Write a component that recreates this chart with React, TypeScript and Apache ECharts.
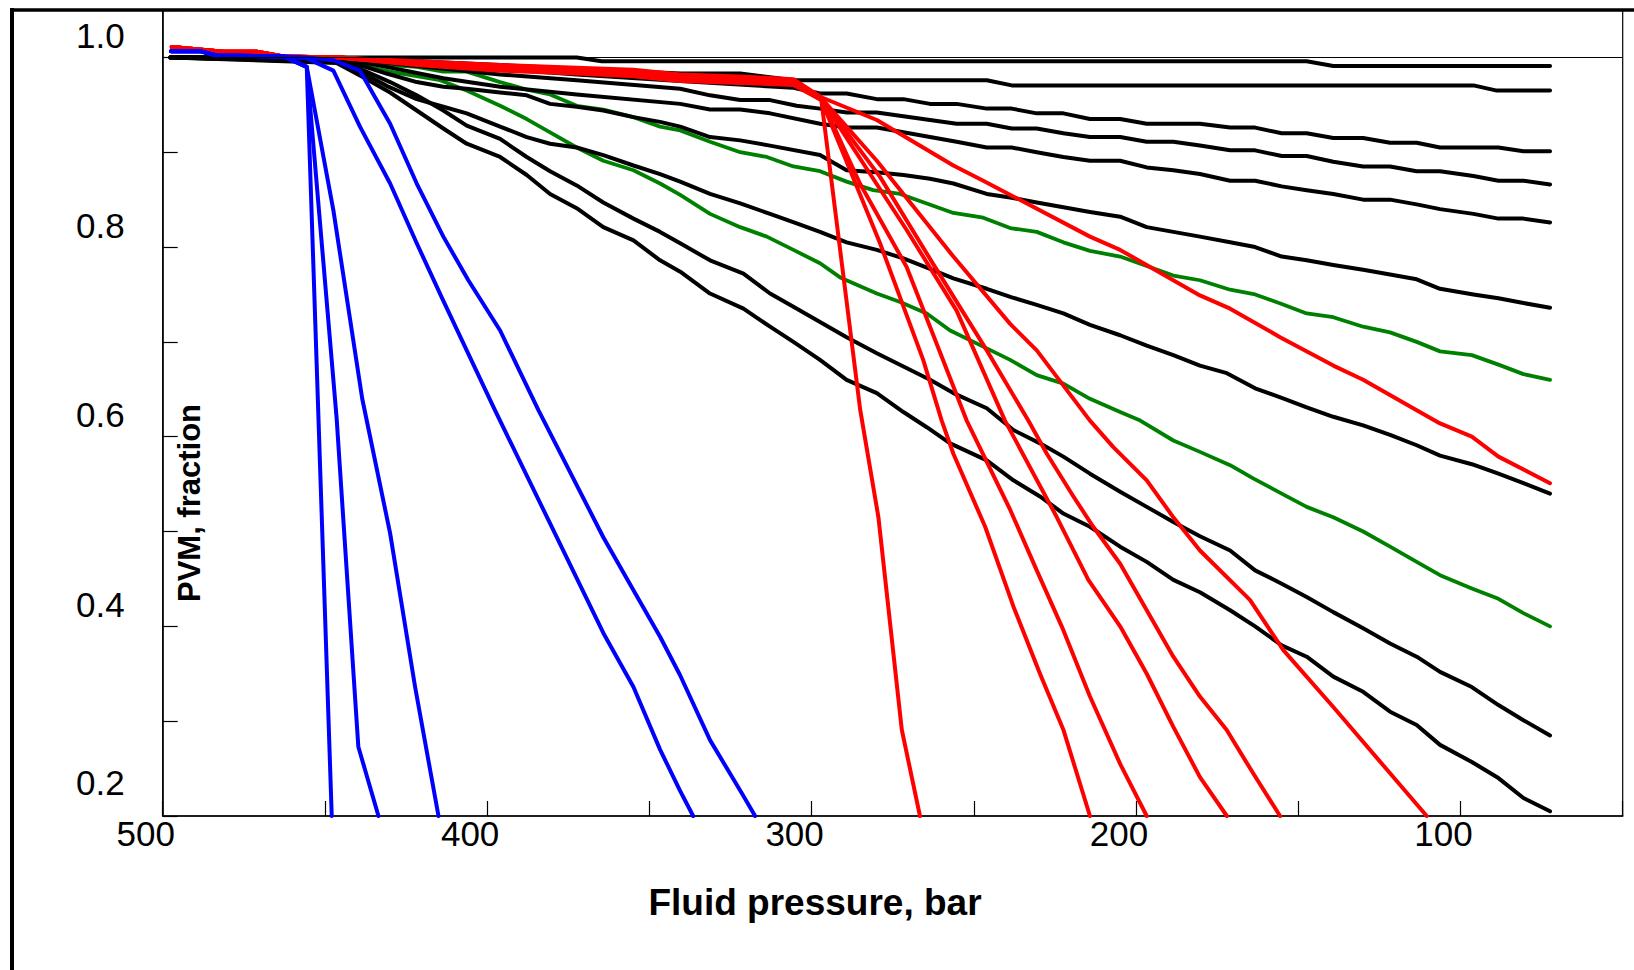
import React, { useEffect, useRef } from "react";
import * as echarts from "echarts";

type Pt = [number, number];

// ---- axis ticks / labels ----
const xTickLabels = [500, 400, 300, 200, 100];
const yTickLabels = [0.2, 0.4, 0.6, 0.8, 1.0];

// ---- black curves (pressure bar, PVM fraction) ----
const black1: Pt[] = [[497.6, 1.0], [372.4, 1.0], [364.7, 0.996], [147.4, 0.996], [139.2, 0.991], [72.4, 0.991]];
const black2: Pt[] = [[497.6, 1.0], [446.4, 1.0], [421.7, 0.996], [396.0, 0.992], [372.4, 0.988], [340.5, 0.983], [322.0, 0.983], [312.8, 0.979], [305.6, 0.976], [246.0, 0.976], [238.3, 0.9705], [96.0, 0.9705], [88.8, 0.965], [72.4, 0.965]];
const black3: Pt[] = [[497.6, 1.0], [446.4, 1.0], [421.7, 0.994], [396.0, 0.988], [372.4, 0.982], [340.5, 0.975], [305.6, 0.968], [297.4, 0.962], [289.2, 0.962], [279.9, 0.956], [271.7, 0.956], [263.5, 0.951], [255.3, 0.951], [246.0, 0.946], [238.3, 0.946], [230.6, 0.941], [222.4, 0.941], [214.2, 0.935], [204.9, 0.935], [196.7, 0.93], [180.3, 0.93], [171.0, 0.926], [163.3, 0.926], [155.1, 0.92], [147.4, 0.92], [139.2, 0.915], [130.0, 0.915], [121.7, 0.91], [113.5, 0.91], [106.3, 0.905], [88.3, 0.905], [80.6, 0.901], [72.4, 0.901]];
const black4: Pt[] = [[497.6, 1.0], [446.4, 1.0], [421.7, 0.991], [396.0, 0.982], [372.4, 0.976], [340.5, 0.967], [331.3, 0.96], [322.0, 0.955], [312.8, 0.955], [304.6, 0.949], [297.4, 0.946], [289.2, 0.942], [279.9, 0.942], [271.7, 0.938], [263.5, 0.934], [255.3, 0.93], [246.0, 0.93], [238.3, 0.925], [230.6, 0.925], [222.4, 0.92], [214.2, 0.916], [204.9, 0.916], [196.7, 0.911], [188.5, 0.911], [180.3, 0.907], [171.0, 0.902], [163.3, 0.902], [155.1, 0.896], [147.4, 0.896], [139.2, 0.89], [130.0, 0.885], [121.7, 0.885], [113.5, 0.88], [106.3, 0.88], [96.0, 0.875], [88.3, 0.87], [80.6, 0.87], [72.4, 0.866]];
const black5: Pt[] = [[497.6, 1.0], [446.4, 1.0], [431.0, 0.99], [413.5, 0.978], [396.0, 0.969], [372.4, 0.961], [340.5, 0.951], [331.3, 0.945], [322.0, 0.945], [312.8, 0.941], [297.4, 0.93], [289.2, 0.926], [279.9, 0.926], [271.7, 0.921], [263.5, 0.916], [255.3, 0.911], [246.0, 0.905], [238.3, 0.905], [230.6, 0.9], [222.4, 0.895], [214.2, 0.891], [204.9, 0.891], [196.7, 0.884], [188.5, 0.881], [180.3, 0.877], [171.0, 0.87], [163.3, 0.87], [155.1, 0.864], [147.4, 0.86], [139.2, 0.856], [130.0, 0.85], [121.7, 0.85], [113.5, 0.845], [106.3, 0.84], [96.0, 0.835], [88.3, 0.83], [80.6, 0.83], [72.4, 0.826]];
const black6: Pt[] = [[497.6, 1.0], [446.4, 0.997], [439.2, 0.992], [431.0, 0.983], [421.7, 0.974], [413.5, 0.969], [406.3, 0.967], [396.0, 0.963], [387.8, 0.96], [380.6, 0.951], [372.4, 0.948], [364.2, 0.944], [354.9, 0.937], [346.7, 0.932], [340.5, 0.927], [331.3, 0.916], [322.0, 0.9125], [312.8, 0.907], [297.4, 0.897], [289.2, 0.881], [279.9, 0.879], [271.7, 0.876], [263.5, 0.872], [256.3, 0.867], [246.0, 0.856], [238.3, 0.852], [230.6, 0.847], [222.4, 0.842], [214.2, 0.837], [204.9, 0.832], [196.7, 0.821], [188.5, 0.816], [180.3, 0.811], [171.0, 0.805], [163.3, 0.8], [155.1, 0.79], [147.4, 0.786], [139.2, 0.781], [130.0, 0.776], [121.7, 0.771], [113.5, 0.766], [106.3, 0.756], [96.0, 0.75], [88.3, 0.746], [80.6, 0.741], [72.4, 0.736]];
const black7: Pt[] = [[497.6, 1.0], [446.4, 0.996], [439.2, 0.985], [431.0, 0.97], [421.7, 0.956], [413.5, 0.948], [406.3, 0.941], [396.0, 0.927], [387.8, 0.916], [380.6, 0.909], [372.4, 0.905], [364.2, 0.897], [354.9, 0.886], [346.7, 0.877], [340.5, 0.869], [331.3, 0.856], [322.0, 0.846], [312.8, 0.835], [304.6, 0.825], [297.4, 0.816], [289.2, 0.805], [279.9, 0.797], [271.7, 0.788], [263.5, 0.777], [256.3, 0.767], [246.0, 0.756], [238.3, 0.747], [230.6, 0.739], [222.4, 0.73], [214.2, 0.718], [204.9, 0.707], [196.7, 0.696], [188.5, 0.686], [180.3, 0.675], [172.0, 0.667], [163.3, 0.651], [155.1, 0.641], [147.4, 0.631], [139.2, 0.621], [130.0, 0.612], [121.7, 0.602], [113.5, 0.591], [106.3, 0.58], [96.5, 0.571], [88.3, 0.561], [80.6, 0.551], [72.4, 0.54]];
const black8: Pt[] = [[497.6, 1.0], [446.4, 0.995], [439.2, 0.988], [429.9, 0.974], [421.7, 0.96], [413.5, 0.944], [406.3, 0.928], [396.0, 0.914], [387.8, 0.895], [380.6, 0.88], [372.4, 0.865], [364.2, 0.847], [354.9, 0.83], [346.7, 0.816], [340.5, 0.804], [331.3, 0.786], [321.0, 0.772], [312.8, 0.751], [305.6, 0.737], [297.4, 0.721], [289.2, 0.705], [279.9, 0.688], [271.7, 0.674], [263.5, 0.66], [256.3, 0.646], [246.0, 0.63], [237.8, 0.607], [229.6, 0.593], [222.4, 0.579], [214.2, 0.561], [204.9, 0.542], [196.7, 0.526], [188.5, 0.51], [180.3, 0.495], [171.0, 0.48], [163.3, 0.459], [155.1, 0.445], [147.4, 0.431], [139.2, 0.415], [130.0, 0.398], [121.7, 0.382], [113.5, 0.368], [106.3, 0.352], [96.5, 0.336], [88.3, 0.317], [80.6, 0.301], [72.4, 0.285]];
const black9: Pt[] = [[497.6, 1.0], [446.4, 0.994], [438.2, 0.979], [429.9, 0.963], [421.7, 0.944], [413.5, 0.925], [406.3, 0.909], [396.0, 0.895], [387.8, 0.876], [380.6, 0.856], [372.4, 0.841], [364.2, 0.821], [354.9, 0.807], [346.7, 0.786], [340.5, 0.774], [331.3, 0.751], [321.0, 0.735], [312.8, 0.716], [305.6, 0.7], [297.4, 0.681], [289.2, 0.66], [279.9, 0.646], [271.7, 0.626], [264.5, 0.61], [257.3, 0.593], [246.0, 0.575], [237.8, 0.554], [229.6, 0.537], [222.4, 0.519], [214.2, 0.505], [204.9, 0.484], [196.7, 0.468], [188.5, 0.449], [180.3, 0.436], [171.0, 0.417], [163.3, 0.4], [155.1, 0.38], [147.4, 0.368], [139.2, 0.347], [130.0, 0.331], [121.7, 0.31], [113.5, 0.296], [106.3, 0.275], [96.5, 0.257], [88.3, 0.24], [80.6, 0.219], [72.4, 0.205]];

// ---- green curves ----
const green1: Pt[] = [[497.6, 1.0], [446.4, 0.998], [439.2, 0.994], [421.7, 0.99], [413.5, 0.985], [406.3, 0.985], [396.0, 0.974], [387.8, 0.966], [380.6, 0.961], [372.4, 0.949], [364.2, 0.945], [354.9, 0.937], [346.7, 0.927], [340.5, 0.923], [331.3, 0.911], [322.0, 0.9], [313.8, 0.895], [305.6, 0.885], [297.4, 0.88], [289.2, 0.869], [281.0, 0.86], [272.7, 0.856], [264.5, 0.846], [256.3, 0.836], [247.1, 0.831], [238.8, 0.82], [230.6, 0.816], [222.4, 0.805], [214.2, 0.796], [204.9, 0.79], [196.7, 0.78], [188.5, 0.77], [180.3, 0.765], [171.0, 0.755], [163.3, 0.75], [155.1, 0.74], [147.4, 0.73], [139.2, 0.726], [130.0, 0.716], [121.7, 0.71], [113.5, 0.7], [106.3, 0.69], [96.5, 0.686], [88.3, 0.676], [80.6, 0.666], [72.4, 0.66]];
const green2: Pt[] = [[497.6, 1.0], [446.4, 0.998], [439.2, 0.992], [429.9, 0.985], [414.5, 0.976], [406.3, 0.965], [396.0, 0.949], [387.8, 0.935], [380.6, 0.921], [372.4, 0.905], [364.2, 0.891], [354.9, 0.881], [346.7, 0.867], [340.5, 0.855], [331.3, 0.835], [322.0, 0.821], [313.8, 0.811], [305.6, 0.797], [297.4, 0.783], [291.2, 0.768], [279.9, 0.751], [272.7, 0.742], [264.5, 0.73], [257.3, 0.712], [247.1, 0.695], [238.8, 0.681], [230.6, 0.665], [222.4, 0.656], [214.2, 0.64], [204.9, 0.626], [198.7, 0.617], [188.5, 0.596], [180.3, 0.584], [171.0, 0.57], [163.9, 0.556], [155.1, 0.54], [147.4, 0.526], [139.2, 0.515], [130.0, 0.5], [121.7, 0.484], [113.5, 0.468], [106.3, 0.454], [96.5, 0.44], [88.3, 0.429], [80.6, 0.414], [72.4, 0.4]];

// ---- blue curves ----
const blue1: Pt[] = [[497.4, 1.0066], [488.5, 1.0066], [483.4, 1.002], [462.8, 1.001], [455.6, 0.99], [447.9, 0.2]];
const blue2: Pt[] = [[497.4, 1.0066], [488.5, 1.0066], [483.4, 1.002], [462.8, 1.001], [455.6, 0.99], [446.4, 0.62], [439.7, 0.273], [433.5, 0.2]];
const blue3: Pt[] = [[497.4, 1.0066], [488.5, 1.0066], [483.4, 1.002], [462.8, 1.001], [455.6, 0.99], [447.4, 0.839], [438.5, 0.64], [429.9, 0.498], [422.2, 0.336], [415.0, 0.2]];
const blue4: Pt[] = [[497.4, 1.0066], [488.5, 1.0066], [483.4, 1.002], [462.8, 1.001], [455.6, 0.999], [447.4, 0.986], [439.2, 0.927], [429.9, 0.867], [421.7, 0.804], [414.0, 0.747], [406.3, 0.691], [397.6, 0.628], [381.1, 0.512], [364.2, 0.393], [354.9, 0.336], [346.7, 0.27], [340.6, 0.227], [336.5, 0.2]];
const blue5: Pt[] = [[497.4, 1.0066], [488.5, 1.0066], [483.4, 1.002], [462.8, 1.001], [455.6, 1.0], [447.4, 0.997], [439.2, 0.986], [429.9, 0.93], [421.7, 0.867], [413.5, 0.811], [405.8, 0.765], [396.0, 0.712], [384.2, 0.628], [364.2, 0.494], [354.9, 0.438], [346.7, 0.389], [340.6, 0.349], [331.3, 0.28], [321.5, 0.224], [317.4, 0.2]];

// ---- red curves ----
const red1: Pt[] = [[497.2, 1.011], [481.3, 1.006], [471.0, 1.006], [462.8, 1.001], [446.0, 1.0], [421.7, 0.992], [396.0, 0.986], [372.4, 0.983], [354.9, 0.98], [340.5, 0.975], [322.0, 0.973], [305.6, 0.971], [297.0, 0.955], [285.0, 0.628], [279.4, 0.515], [272.2, 0.291], [266.6, 0.2]];
const red2: Pt[] = [[497.2, 1.011], [481.3, 1.006], [471.0, 1.006], [462.8, 1.001], [446.0, 1.0], [421.7, 0.993], [396.0, 0.987], [372.4, 0.984], [354.9, 0.981], [340.5, 0.976], [322.0, 0.974], [305.6, 0.972], [297.0, 0.955], [278.9, 0.804], [265.6, 0.681], [259.9, 0.617], [256.3, 0.582], [246.5, 0.505], [237.8, 0.421], [229.6, 0.35], [222.4, 0.291], [214.2, 0.2]];
const red3: Pt[] = [[497.2, 1.011], [481.3, 1.006], [471.0, 1.006], [462.8, 1.001], [446.0, 1.0], [421.7, 0.993], [396.0, 0.988], [372.4, 0.985], [354.9, 0.982], [340.5, 0.977], [322.0, 0.975], [305.6, 0.973], [297.0, 0.956], [285.1, 0.867], [270.7, 0.779], [252.2, 0.617], [238.8, 0.523], [230.6, 0.459], [222.4, 0.396], [214.2, 0.326], [204.9, 0.255], [196.7, 0.2]];
const red4: Pt[] = [[497.2, 1.011], [481.3, 1.006], [471.0, 1.006], [462.8, 1.001], [446.0, 1.0], [421.7, 0.994], [396.0, 0.989], [372.4, 0.986], [354.9, 0.984], [340.5, 0.978], [322.0, 0.976], [305.6, 0.974], [297.0, 0.956], [270.7, 0.818], [255.3, 0.733], [240.4, 0.617], [224.4, 0.515], [214.7, 0.449], [204.9, 0.4], [196.7, 0.35], [188.5, 0.294], [180.3, 0.241], [172.0, 0.2]];
const red5: Pt[] = [[497.2, 1.011], [481.3, 1.006], [471.0, 1.006], [462.8, 1.001], [446.0, 1.0], [421.7, 0.994], [396.0, 0.99], [372.4, 0.987], [354.9, 0.985], [340.5, 0.979], [322.0, 0.977], [305.6, 0.975], [297.0, 0.957], [278.9, 0.874], [262.5, 0.782], [246.0, 0.691], [233.2, 0.617], [227.5, 0.582], [219.3, 0.537], [213.2, 0.505], [204.9, 0.466], [196.7, 0.417], [188.5, 0.368], [180.3, 0.326], [172.1, 0.291], [163.9, 0.245], [155.6, 0.2]];
const red6: Pt[] = [[497.2, 1.011], [481.3, 1.006], [471.0, 1.006], [462.8, 1.001], [446.0, 1.0], [421.7, 0.995], [396.0, 0.991], [372.4, 0.988], [354.9, 0.986], [340.5, 0.981], [322.0, 0.979], [305.6, 0.976], [297.0, 0.957], [279.9, 0.891], [264.5, 0.825], [256.3, 0.79], [238.8, 0.719], [230.6, 0.691], [214.2, 0.617], [207.0, 0.589], [196.7, 0.554], [188.5, 0.515], [180.3, 0.48], [164.9, 0.428], [154.6, 0.375], [139.2, 0.315], [122.7, 0.249], [110.4, 0.2]];
const red7: Pt[] = [[497.2, 1.011], [481.3, 1.006], [471.0, 1.006], [462.8, 1.001], [446.0, 1.0], [421.7, 0.996], [396.0, 0.992], [372.4, 0.989], [354.9, 0.987], [340.5, 0.982], [322.0, 0.98], [305.6, 0.977], [297.0, 0.958], [279.9, 0.934], [256.3, 0.886], [247.1, 0.87], [214.2, 0.811], [204.9, 0.797], [180.3, 0.749], [171.0, 0.735], [155.6, 0.705], [139.2, 0.675], [130.0, 0.66], [113.5, 0.628], [106.3, 0.614], [96.5, 0.6], [88.3, 0.579], [72.4, 0.551]];

const blackCurves = [black1, black2, black3, black4, black5, black6, black7, black8, black9];
const greenCurves = [green1, green2];
const redCurves = [red1, red2, red3, red4, red5, red6, red7];
const blueCurves = [blue1, blue2, blue3, blue4, blue5];

const FONT = "'Liberation Sans', Arial, Helvetica, sans-serif";

function lineSeries(data: Pt[], color: string, width: number, extra: any = {}) {
  return {
    type: "line",
    data,
    showSymbol: false,
    symbol: "none",
    silent: true,
    lineStyle: { color, width, cap: "round", join: "round" },
    itemStyle: { color },
    z: 2,
    ...extra,
  };
}

export default function App() {
  const ref = useRef<HTMLDivElement>(null);
  useEffect(() => {
    if (!ref.current) return;
    document.body.style.margin = "0";
    const chart = echarts.init(ref.current, undefined, { renderer: "svg" });
    const series: any[] = [];
    greenCurves.forEach((d, i) =>
      series.push(
        lineSeries(
          d,
          "#008000",
          3.8,
          i === 0
            ? {
                markLine: {
                  silent: true,
                  symbol: "none",
                  label: { show: false },
                  lineStyle: { color: "#000", width: 1.2, type: "solid" },
                  data: [{ yAxis: 1.0 }],
                },
              }
            : {}
        )
      )
    );
    blackCurves.forEach((d) => series.push(lineSeries(d, "#000000", 4)));
    redCurves.forEach((d) => series.push(lineSeries(d, "#ff0000", 4)));
    blueCurves.forEach((d) => series.push(lineSeries(d, "#0000ff", 4)));

    const labelText = { fontSize: 35, fontFamily: FONT, color: "#000", lineHeight: 26 };

    chart.setOption({
      animation: false,
      backgroundColor: "#ffffff",
      grid: {
        left: 162.7,
        top: 10,
        right: 11.3,
        bottom: 154,
        containLabel: false,
        outerBoundsMode: "none",
        show: true,
        borderColor: "#000",
        borderWidth: 1.2,
        backgroundColor: "transparent",
      },
      xAxis: {
        type: "value",
        inverse: true,
        min: 50,
        max: 500,
        interval: 50,
        axisLine: { show: true, onZero: false, lineStyle: { color: "#000", width: 1.5 } },
        axisTick: { show: true, inside: true, length: 15, lineStyle: { color: "#000", width: 1.2 } },
        splitLine: { show: false },
        axisLabel: {
          show: true,
          margin: 0,
          color: "#000",
          fontSize: 35,
          fontFamily: FONT,
          padding: [0, 34, 0, 0],
          formatter: (v: number) => (xTickLabels.indexOf(Math.round(v)) >= 0 ? String(Math.round(v)) : ""),
        },
      },
      yAxis: {
        type: "value",
        min: 0.2,
        max: 1.05,
        interval: 0.1,
        axisLine: { show: true, onZero: false, lineStyle: { color: "#000", width: 1.5 } },
        axisTick: { show: true, inside: true, length: 15, lineStyle: { color: "#000", width: 1.2 } },
        splitLine: { show: false },
        axisLabel: {
          show: true,
          margin: 38,
          color: "#000",
          fontSize: 35,
          fontFamily: FONT,
          formatter: (v: number) => {
            const k = Math.round(v * 100);
            const hit = yTickLabels.find((t) => Math.round(t * 100) === k);
            if (hit === undefined) return "";
            return k === 20 ? `{v|${hit.toFixed(1)}}\n{low| }` : `{v|${hit.toFixed(1)}}\n{up| }`;
          },
          rich: {
            v: { ...labelText, align: "right" },
            up: { fontSize: 4, lineHeight: 44, align: "right" },
            low: { fontSize: 4, lineHeight: 68, align: "right" },
          },
        },
      },
      graphic: [
        {
          type: "line",
          silent: true,
          shape: { x1: 12, y1: 8, x2: 12, y2: 980 },
          style: { stroke: "#000", lineWidth: 4 },
          z: 100,
        },
        {
          type: "line",
          silent: true,
          shape: { x1: 10, y1: 10, x2: 1640, y2: 10 },
          style: { stroke: "#000", lineWidth: 3.5 },
          z: 100,
        },
        {
          type: "text",
          silent: true,
          x: 815,
          y: 902,
          style: {
            text: "Fluid pressure, bar",
            fill: "#000",
            font: `bold 37px ${FONT}`,
            align: "center",
            verticalAlign: "middle",
          },
          z: 100,
        },
        {
          type: "text",
          silent: true,
          x: 189,
          y: 503,
          rotation: Math.PI / 2,
          style: {
            text: "PVM, fraction",
            fill: "#000",
            font: `bold 31px ${FONT}`,
            align: "center",
            verticalAlign: "middle",
          },
          z: 100,
        },
      ],
      series,
    });
    return () => chart.dispose();
  }, []);
  return (
    <div
      ref={ref}
      style={{ position: "fixed", left: 0, top: 0, width: 1634, height: 970, background: "#fff" }}
    />
  );
}
